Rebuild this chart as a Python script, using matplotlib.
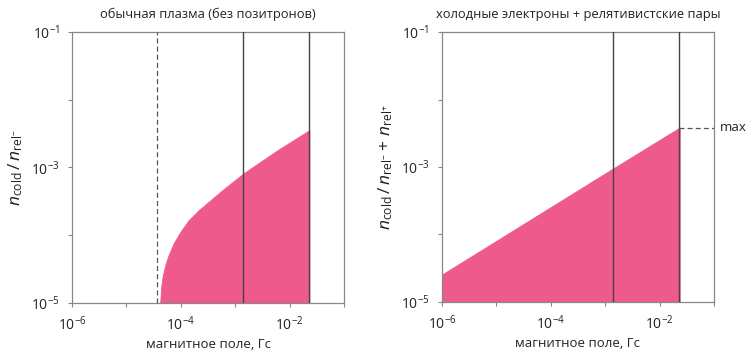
import matplotlib
matplotlib.use("Agg")
import matplotlib.pyplot as plt
import numpy as np

plt.rcParams['font.family'] = ['Open Sans', 'DejaVu Sans']
plt.rcParams['mathtext.fontset'] = 'custom'
plt.rcParams['mathtext.rm'] = 'Open Sans'
plt.rcParams['mathtext.it'] = 'Open Sans:italic'

left_logx = [-4.379, -4.360, -4.336, -4.287, -4.226, -4.133, -4.009, -3.856,
             -3.671, -3.455, -3.238, -2.852, -2.222, -1.637]
left_logy = [-5.0, -4.764, -4.616, -4.443, -4.296, -4.123, -3.951, -3.778,
             -3.631, -3.484, -3.336, -3.089, -2.744, -2.449]
left_dashed_x = 3.7e-5
left_vlines = [1.4e-3, 2.3e-2]

# Right panel: cold electrons + relativistic pairs
right_logx = [-6.0, -2.858, -1.631]
right_logy = [-4.594, -3.024, -2.416]
right_vlines = [1.4e-3, 2.3e-2]
max_level = 10 ** -2.416

titles = ["обычная плазма (без позитронов)", "холодные электроны + релятивистские пары"]
xlabel = "магнитное поле, Гс"
ylabels = [r"$\mathit{n}_{\mathrm{cold}}\,/\,\mathit{n}_{\mathrm{rel}^{-}}$",
           r"$\mathit{n}_{\mathrm{cold}}\,/\,\mathit{n}_{\mathrm{rel}^{-}}+\,\mathit{n}_{\mathrm{rel}^{+}}$"]
xticks = [1e-6, 1e-5, 1e-4, 1e-3, 1e-2, 1e-1]
xticklabels = [r"$10^{-6}$", "", r"$10^{-4}$", "", r"$10^{-2}$", ""]
yticks = [1e-5, 1e-4, 1e-3, 1e-2, 1e-1]
yticklabels = [r"$10^{-5}$", "", r"$10^{-3}$", "", r"$10^{-1}$"]

FILL = "#EE5A8C"
SPINE = "#888888"
LINE = "#444444"

fig = plt.figure(figsize=(7.5, 3.56), dpi=100)
axL = fig.add_axes([0.096, 0.149, 0.3627, 0.761])
axR = fig.add_axes([0.5893, 0.152, 0.3627, 0.758])

for i, ax in enumerate([axL, axR]):
    ax.set_xscale('log')
    ax.set_yscale('log')
    ax.set_xlim(1e-6, 1e-1)
    ax.set_ylim(1e-5, 1e-1)
    ax.set_xticks(xticks)
    ax.set_xticklabels(xticklabels)
    ax.set_yticks(yticks)
    ax.set_yticklabels(yticklabels)
    ax.minorticks_off()
    ax.tick_params(direction='out', length=3, width=0.8, color=SPINE,
                   labelsize=10, pad=6, colors='#222222')
    ax.tick_params(axis='both', color=SPINE)
    for s in ax.spines.values():
        s.set_color(SPINE)
        s.set_linewidth(0.9)
    ax.set_title(titles[i], fontsize=9.3, pad=10, color='#222222')
    ax.set_xlabel(xlabel, fontsize=9.5, labelpad=3, color='#222222')
    ax.set_ylabel(ylabels[i], fontsize=12.5, labelpad=4, color='#222222')

# Left
lx = 10 ** np.array(left_logx)
ly = 10 ** np.array(left_logy)
axL.fill_between(lx, 1e-5, ly, color=FILL, linewidth=0.6, edgecolor=FILL, zorder=2)
axL.axvline(left_dashed_x, color='#555555', lw=0.9, ls=(0, (4, 2.5)), zorder=3)
for v in left_vlines:
    axL.axvline(v, color=LINE, lw=1.0, zorder=3)

# Right
rx = 10 ** np.array(right_logx)
ry = 10 ** np.array(right_logy)
axR.fill_between(rx, 1e-5, ry, color=FILL, linewidth=0.6, edgecolor=FILL, zorder=2)
for v in right_vlines:
    axR.axvline(v, color=LINE, lw=1.0, zorder=3)
axR.plot([right_vlines[-1], 1e-1], [max_level, max_level], color='#555555', lw=0.9,
         ls=(0, (4, 2.5)), zorder=3)
axR.annotate("max", xy=(1.0, max_level), xycoords=axR.get_yaxis_transform(),
             xytext=(4, 0), textcoords='offset points', fontsize=9.5,
             va='center', ha='left', color='#222222')

fig.savefig("out.png", dpi=100)
